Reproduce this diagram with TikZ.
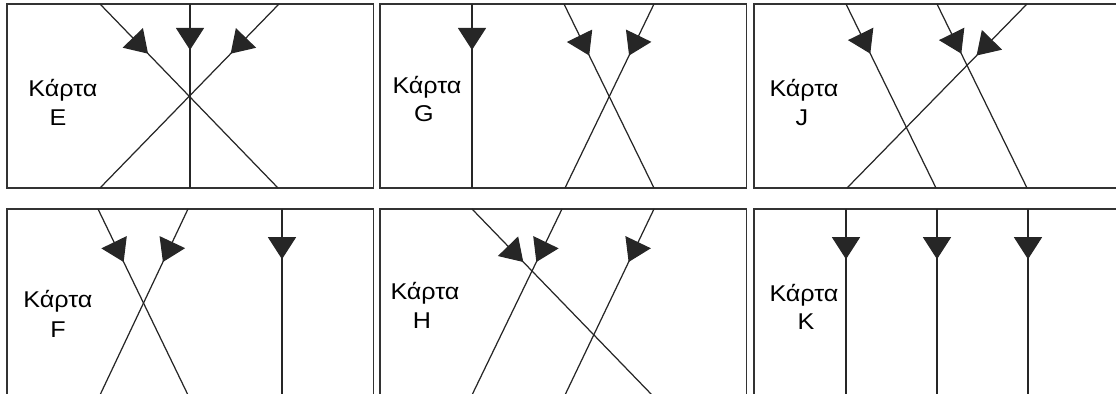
\documentclass[tikz,border=0pt]{standalone}
\usepackage{fontspec}
\usepackage{xcolor}
\usepackage{tikz}
\usetikzlibrary{arrows.meta, decorations.markings}
\newfontfamily\cardfont[FakeStretch=1.1]{Liberation Sans}

\begin{document}
\begin{tikzpicture}[x=0.02cm, y=-0.02cm, >={Triangle[width=0.56cm, length=0.44cm]},
    frame/.style={draw=black!80, line width=1.1pt},
    ray/.style={black!85, line width=0.7pt,
        decoration={markings, mark=at position #1 with {\arrow{>}}}, postaction={decorate}},
    cardlabel/.style={font=\cardfont\fontsize{13}{16}\selectfont, inner sep=0pt, anchor=base}]
    \useasboundingbox (0,0) rectangle (1116,394);
    \clip (0,0) rectangle (1116,394);
    \foreach \x in {7, 380, 754} {
        \draw[frame] (\x,4) rectangle ++(366.5,184);
        \draw[frame] (\x,209) rectangle ++(366.5,187);
    }

    % top row: E, G, J
    \draw[ray=0.27] (100,4) -- (278,188);
    \draw[ray=0.25] (190,4) -- (190,188);
    \draw[ray=0.27] (279,4) -- (100,188);
    \node[cardlabel] (labE) at (63,97) {Κάρτα};
    \node[cardlabel] (idE) at (58,126) {E};

    \draw[ray=0.25] (472,4) -- (472,188);
    \draw[ray=0.28] (564,4) -- (654,188);
    \draw[ray=0.28] (654,4) -- (565,188);
    \node[cardlabel] (labG) at (427,94) {Κάρτα};
    \node[cardlabel] (idG) at (424,122) {G};

    \draw[ray=0.27] (846,4) -- (936,188);
    \draw[ray=0.27] (937,4) -- (1027,188);
    \draw[ray=0.28] (1027,4) -- (847,188);
    \node[cardlabel] (labJ) at (804,97) {Κάρτα};
    \node[cardlabel] (idJ) at (802,126) {J};

    % bottom row: F, H, K
    \draw[ray=0.285] (98,209) -- (188,395);
    \draw[ray=0.285] (188,209) -- (100,395);
    \draw[ray=0.27] (282,209) -- (282,395);
    \node[cardlabel] (labF) at (58,308) {Κάρτα};
    \node[cardlabel] (idF) at (58,338) {F};

    \draw[ray=0.285] (472,209) -- (652,395);
    \draw[ray=0.285] (562,209) -- (472,395);
    \draw[ray=0.285] (654,209) -- (565,395);
    \node[cardlabel] (labH) at (425,300) {Κάρτα};
    \node[cardlabel] (idH) at (422,329) {H};

    \draw[ray=0.27] (846,209) -- (846,395);
    \draw[ray=0.27] (937,209) -- (937,395);
    \draw[ray=0.27] (1028,209) -- (1028,395);
    \node[cardlabel] (labK) at (804,302) {Κάρτα};
    \node[cardlabel] (idK) at (806,330) {K};
\end{tikzpicture}
\end{document}
